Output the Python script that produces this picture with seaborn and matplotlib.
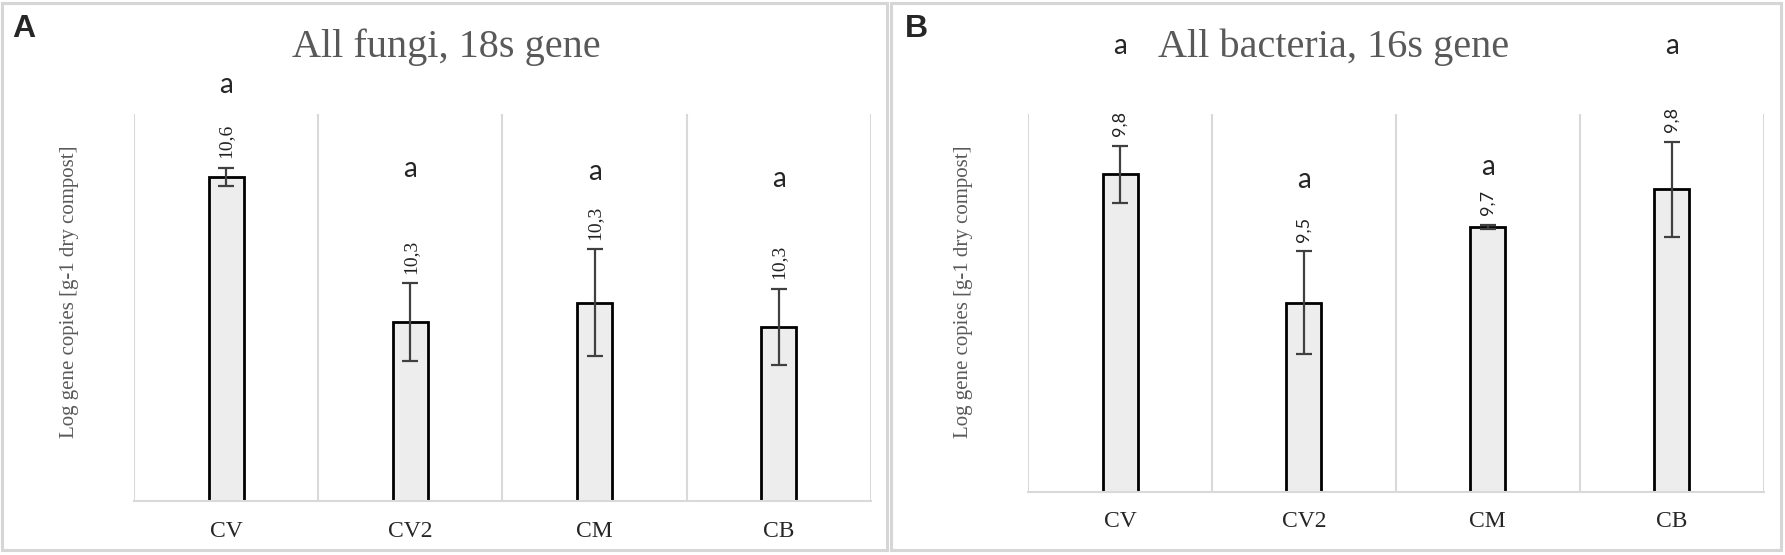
import numpy as np
import pandas as pd
import matplotlib
matplotlib.use("Agg")
import matplotlib.pyplot as plt
import seaborn as sns
from matplotlib.patches import Rectangle

# Data
samples = ["CV", "CV2", "CM", "CB"]

fungi_mean = [10.57, 10.27, 10.31, 10.26]
fungi_err = [0.019, 0.08, 0.11, 0.078]
fungi_letters = ["a", "a", "a", "a"]
fungi_letter_y = [10.76, 10.585, 10.58, 10.565]

bact_mean = [9.84, 9.50, 9.70, 9.80]
bact_err = [0.075, 0.136, 0.006, 0.126]
bact_letters = ["a", "a", "a", "a"]
bact_letter_y = [10.18, 9.825, 9.86, 10.18]

sns.set_style("white")
plt.rcParams["font.family"] = ["Liberation Serif", "DejaVu Sans"]

fig = plt.figure(figsize=(17.85, 5.55), dpi=100)

# panel frames
for x0, w in [(0.001, 0.496), (0.499, 0.499)]:
    fig.patches.append(Rectangle((x0, 0.009), w, 0.986, transform=fig.transFigure,
                                 fill=False, edgecolor="#d6d6d6", linewidth=2.2))


def draw_panel(ax, means, errs, letters, letter_y, ylim, title, tag, tag_x, title_x, ylab_x,
               label_family, label_size):
    df = pd.DataFrame({"sample": samples, "value": means})
    sns.barplot(data=df, x="sample", y="value", color="#ededed", edgecolor="black",
                linewidth=2, width=0.19, errorbar=None, ax=ax, saturation=1)
    ax.errorbar(np.arange(len(samples)), means, yerr=errs, fmt="none",
                ecolor="#404040", elinewidth=1.6, capsize=6, capthick=1.6)
    ax.set_ylim(*ylim)
    ax.set_xlim(-0.5, len(samples) - 0.5)
    ax.set_yticks([])
    ax.set_xlabel("")
    ax.set_ylabel("")
    ax.set_xticks(np.arange(-0.5, len(samples)), minor=True)
    ax.grid(which="minor", axis="x", color="#d9d9d9", linewidth=1.5)
    ax.tick_params(axis="x", which="both", length=0, pad=14, labelsize=17)
    for s in ["top", "right", "left"]:
        ax.spines[s].set_visible(False)
    ax.spines["bottom"].set_color("#d9d9d9")
    ax.spines["bottom"].set_linewidth(1.5)

    for i, (m, e) in enumerate(zip(means, errs)):
        ax.annotate(f"{m:.1f}".replace(".", ","), (i, m + e), xytext=(0, 7),
                    textcoords="offset points", rotation=90, ha="center", va="bottom",
                    fontsize=label_size, color="#222222", family=label_family)
        ax.text(i, letter_y[i], letters[i], ha="center", va="center", fontsize=20,
                family=["Lato", "DejaVu Sans"], clip_on=False)

    fig.text(title_x, 0.915, title, ha="center", va="center", fontsize=29, color="#595959")
    fig.text(tag_x, 0.948, tag, ha="left", va="center", fontsize=23, fontweight="bold",
             family=["Liberation Sans", "DejaVu Sans"])
    fig.text(ylab_x, 0.475, "Log gene copies [g-1 dry compost]", rotation=90,
             ha="center", va="center", fontsize=15, color="#595959")


ax_a = fig.add_axes([0.075, 0.097, 0.413, 0.698])
draw_panel(ax_a, fungi_mean, fungi_err, fungi_letters, fungi_letter_y, (9.9, 10.7),
           "All fungi, 18s gene", "A", 0.007, 0.25, 0.039,
           ["Liberation Serif", "DejaVu Sans"], 14)

ax_b = fig.add_axes([0.576, 0.114, 0.412, 0.681])
draw_panel(ax_b, bact_mean, bact_err, bact_letters, bact_letter_y, (9.0, 10.0),
           "All bacteria, 16s gene", "B", 0.507, 0.747, 0.540,
           ["Lato", "DejaVu Sans"], 13)

fig.savefig("out.png", dpi=100)
